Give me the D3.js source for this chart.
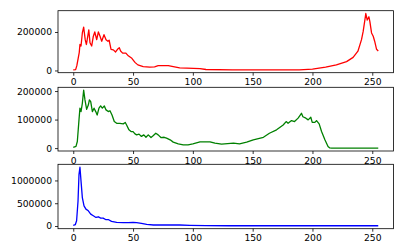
<!DOCTYPE html>
<html>
<head>
<meta charset="utf-8">
<script src="https://cdn.jsdelivr.net/npm/d3@7"></script>
<style>
  body { margin: 0; background: #fff; }
  svg { display: block; }
  text { font-family: "DejaVu Sans", sans-serif; fill: #000; }
</style>
</head>
<body>
<svg width="403" height="252"></svg>
<script>
// histogram counts per channel as [bin, count]
const red = [
  [0,3000],[2,4000],[3,25000],[5,93000],[5.6,135000],[6.5,127000],[7.6,195000],[8.7,225000],
  [10,160000],[11,135000],[13,211000],[14,144000],[15.4,127000],[16.8,178000],[18,200000],
  [19.6,160000],[21,200000],[22.4,178000],[23.8,152000],[25.7,186000],[27.4,160000],[29,152000],
  [30,157000],[31.6,110000],[33.5,107000],[35.4,96000],[37,110000],[38.5,118000],[39.6,101000],
  [41.3,90000],[44,90000],[46,76000],[49,63000],[51.6,42000],[54,29000],[58.5,20000],[64,17000],
  [68,19000],[71,25000],[75,25000],[79.5,25000],[83.6,20000],[89,13500],[95,12000],[106,10000],
  [111,5000],[133,3400],[189,3400],[200,6800],[211,17000],[220,29000],[228.5,46000],[234,68000],
  [238,100000],[241,160000],[242.4,203000],[243.8,262000],[244.6,296000],[245.8,262000],
  [247.2,279000],[248,254000],[249.4,195000],[250.8,178000],[252,152000],[253.6,110000],[255,101000]
];
const green = [
  [0,2300],[2.3,5800],[3.4,23000],[4.8,99000],[5.6,140000],[6.5,128000],[7.6,157000],[8.7,203000],
  [9.8,169000],[11.2,136000],[12.6,151000],[13.5,169000],[14.6,163000],[16,128000],[17.4,140000],
  [18.8,128000],[20,116000],[21.5,140000],[22.9,148000],[24.3,140000],[26,148000],[27.4,134000],
  [29.3,128000],[30.7,131000],[32.4,116000],[34.3,93000],[36.3,87000],[39,87000],[41.8,85000],
  [43.5,90000],[44.6,81000],[46.6,64000],[48.3,58000],[50,58000],[51.6,50000],[53,46500],
  [55,49000],[57,41000],[59,46500],[60.8,38000],[62.7,46500],[65,37000],[67,44000],[69,52000],
  [71,46500],[73.3,37000],[76,38000],[78,35000],[81,29000],[83.6,21000],[87.8,15000],[92,11600],
  [96,11600],[100,15000],[106,22000],[114.3,22000],[118.5,17400],[124,14000],[134,17400],
  [139,15000],[145,21000],[150.5,29000],[159,38000],[164,52000],[170,64000],[175.5,81000],
  [178,93000],[179.6,87000],[182.5,96500],[185,93000],[188,105000],[190.8,122000],[192,110000],
  [194.5,105000],[196.4,99000],[198.6,108000],[199.8,90000],[202,90000],[203.4,96500],
  [205.6,85000],[207.6,58000],[210.4,29000],[213,5800],[214.5,500],[216,0],[255,0]
];
const blue = [
  [0,14000],[1.7,29000],[2.8,116000],[4,550000],[4.8,1130000],[5.6,1290000],[6.5,985000],
  [7.6,623000],[9,442000],[10.6,370000],[12.6,333000],[14.6,261000],[16.8,225000],[19,188000],
  [21,203000],[22.9,174000],[25,174000],[27.4,138000],[29.6,138000],[32,101000],[36.3,80000],
  [41.8,72000],[46,72000],[50,80000],[53,72000],[57,58000],[61.4,36000],[67,22000],[78,22000],
  [89,22000],[97.5,14500],[111,7000],[130,5000],[255,5000]
];

const xTicks = [0, 50, 100, 150, 200, 250];
const redTicks = [0, 200000];
const greenTicks = [0, 100000];
const blueTicks = [0, 500000, 1000000];
greenTicks.push(200000);

const svg = d3.select('svg');
const left = 58, right = 393.5;
const fontSize = 9.2;

const panels = [
  { data: red, color: '#ff0000', ticks: redTicks, top: 10.7, bottom: 72.7 },
  { data: green, color: '#008000', ticks: greenTicks, top: 87.3, bottom: 151 },
  { data: blue, color: '#0000ff', ticks: blueTicks, top: 164.3, bottom: 228.7 }
];

// matplotlib style 5% margins
function padded (lo, hi) {
  const m = (hi - lo) * 0.05;
  return [lo - m, hi + m];
}

panels.forEach(p => {
  const x = d3.scaleLinear()
    .domain(padded(0, 255))
    .range([left, right]);
  const y = d3.scaleLinear()
    .domain(padded(d3.min(p.data, d => d[1]), d3.max(p.data, d => d[1])))
    .range([p.bottom, p.top]);

  const g = svg.append('g');

  g.append('path')
    .datum(p.data)
    .attr('fill', 'none')
    .attr('stroke', p.color)
    .attr('stroke-width', 1.3)
    .attr('stroke-linejoin', 'round')
    .attr('d', d3.line().x(d => x(d[0])).y(d => y(d[1])));

  g.append('rect')
    .attr('x', left)
    .attr('y', p.top)
    .attr('width', right - left)
    .attr('height', p.bottom - p.top)
    .attr('fill', 'none')
    .attr('stroke', '#000')
    .attr('stroke-width', 0.8);

  const xa = g.append('g')
    .attr('transform', `translate(0,${p.bottom})`)
    .call(d3.axisBottom(x).tickValues(xTicks).tickSize(3).tickPadding(3).tickFormat(d3.format('d')));
  const ya = g.append('g')
    .attr('transform', `translate(${left},0)`)
    .call(d3.axisLeft(y).tickValues(p.ticks).tickSize(3).tickPadding(3).tickFormat(d3.format('d')));

  [xa, ya].forEach(a => {
    a.select('.domain').remove();
    a.selectAll('line').attr('stroke', '#000').attr('stroke-width', 0.8);
    a.selectAll('text')
      .attr('font-family', '"DejaVu Sans", sans-serif')
      .attr('font-size', fontSize)
      .attr('fill', '#000');
  });
});
</script>
</body>
</html>
